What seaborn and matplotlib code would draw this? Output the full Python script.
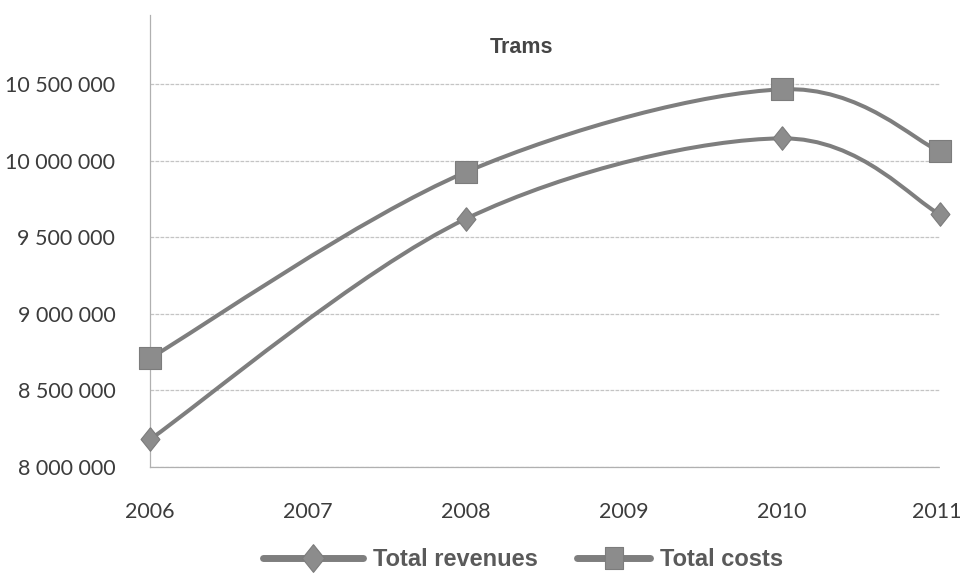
import numpy as np
import pandas as pd
import matplotlib
matplotlib.use("Agg")
import matplotlib.pyplot as plt
import matplotlib.transforms as mtransforms
from matplotlib.path import Path
from matplotlib.patches import PathPatch
from matplotlib.lines import Line2D
import seaborn as sns

# Yearly totals for the tram network
years = [2006, 2008, 2010, 2011]
total_revenues = [8180000, 9620000, 10145000, 9650000]
total_costs = [8710000, 9925000, 10465000, 10060000]

series_names = ["Total revenues", "Total costs"]
year_ticks = [2006, 2007, 2008, 2009, 2010, 2011]
value_ticks = [8000000, 8500000, 9000000, 9500000, 10000000, 10500000]
title_text = "Trams"

LINE_GREY = "#7e7e7e"
MARK_GREY = "#8c8c8c"
DIAMOND = [(0, 1), (0.8, 0), (0, -1), (-0.8, 0), (0, 1)]
TALL_SQUARE = [(-0.78, -1), (0.78, -1), (0.78, 1), (-0.78, 1), (-0.78, -1)]


def smooth_path(xs, ys):
    """Cubic Bezier path through the points (Catmull-Rom style smoothing)."""
    pts = np.column_stack([xs, ys]).astype(float)
    n = len(pts)
    verts = [pts[0]]
    codes = [Path.MOVETO]
    for i in range(n - 1):
        p_prev = pts[max(i - 1, 0)]
        p0, p1 = pts[i], pts[i + 1]
        p_next = pts[min(i + 2, n - 1)]
        c1 = p0 + (p1 - p_prev) / 6.0
        c2 = p1 - (p_next - p0) / 6.0
        verts += [c1, c2, p1]
        codes += [Path.CURVE4] * 3
    return Path(verts, codes)


df = pd.DataFrame({
    "year": years * 2,
    "value": total_revenues + total_costs,
    "series": [series_names[0]] * len(years) + [series_names[1]] * len(years),
})

sns.set_theme(style="white")
plt.rcParams["font.family"] = ["Lato", "DejaVu Sans"]

fig = plt.figure(figsize=(9.64, 5.74), dpi=100)
ax = fig.add_axes([150 / 964, 1 - 467 / 574, 790 / 964, 452 / 574])

# smoothed curves
for name in series_names:
    sub = df[df["series"] == name]
    patch = PathPatch(smooth_path(sub["year"].values, sub["value"].values),
                      facecolor="none", edgecolor=LINE_GREY, lw=2.9,
                      capstyle="round", joinstyle="round", zorder=2,
                      clip_on=False)
    ax.add_patch(patch)

# markers
marker_styles = {series_names[0]: (DIAMOND, 17), series_names[1]: ("s", 15.5)}
for name in series_names:
    mk, ms = marker_styles[name]
    sns.scatterplot(data=df[df["series"] == name], x="year", y="value", ax=ax,
                    marker=mk, s=ms ** 2, color=MARK_GREY, edgecolor="#7c7c7c",
                    linewidth=0.8, zorder=3, clip_on=False, legend=False)

ax.set_xlim(year_ticks[0], year_ticks[-1])
ax.set_ylim(value_ticks[0], 10950000)
ax.set_xticks(year_ticks)
ax.set_xticklabels([str(y) for y in year_ticks])
ax.set_yticks(value_ticks)
ax.set_yticklabels([f"{v:,}".replace(",", " ") for v in value_ticks])
ax.set_xlabel("")
ax.set_ylabel("")

ax.grid(axis="y", color="#c4c4c4", lw=0.9, linestyle=(0, (3, 1)))
ax.grid(axis="x", visible=False)
for side in ["top", "right"]:
    ax.spines[side].set_visible(False)
for side in ["left", "bottom"]:
    ax.spines[side].set_color("#b0b0b0")
    ax.spines[side].set_linewidth(0.9)
    ax.spines[side].set_linestyle((0, (3, 1)))

ax.tick_params(axis="y", direction="out", length=5, width=0.8, color="#aaaaaa",
               pad=20, labelsize=15.5, labelcolor="#3c3c3c")
ax.tick_params(axis="x", direction="out", length=5, width=0.8, color="#aaaaaa",
               pad=20, labelsize=15.5, labelcolor="#3c3c3c")

# keep the last year label inside the canvas
last = ax.get_xticklabels()[-1]
last.set_transform(last.get_transform() +
                   mtransforms.ScaledTranslation(-3 / 100, 0, fig.dpi_scale_trans))
ax.set_facecolor("white")

fig.text(521 / 964, 1 - 47.5 / 574, title_text, ha="center", va="center",
         fontsize=15.5, fontweight="bold", family=["Liberation Sans", "DejaVu Sans"],
         color="#454545")

# legend, one entry per series
legend_specs = [
    (series_names[0], DIAMOND, 20, 4.25, 263),
    (series_names[1], TALL_SQUARE, 16.5, 3.1, 577),
]
for name, mk, ms, hlen, left_px in legend_specs:
    handle = Line2D([], [], color=LINE_GREY, lw=5, marker=mk, markersize=ms,
                    markerfacecolor=MARK_GREY, markeredgecolor="#7c7c7c",
                    markeredgewidth=0.8)
    fig.legend([handle], [name], loc="center left",
               bbox_to_anchor=(left_px / 964, 1 - 560 / 574),
               frameon=False, borderpad=0, borderaxespad=0,
               handlelength=hlen, handletextpad=0.42, numpoints=1,
               prop={"family": ["Liberation Sans", "DejaVu Sans"],
                     "weight": "bold", "size": 17},
               labelcolor="#5a5a5a")

fig.savefig("out.png", dpi=100, facecolor="white")
